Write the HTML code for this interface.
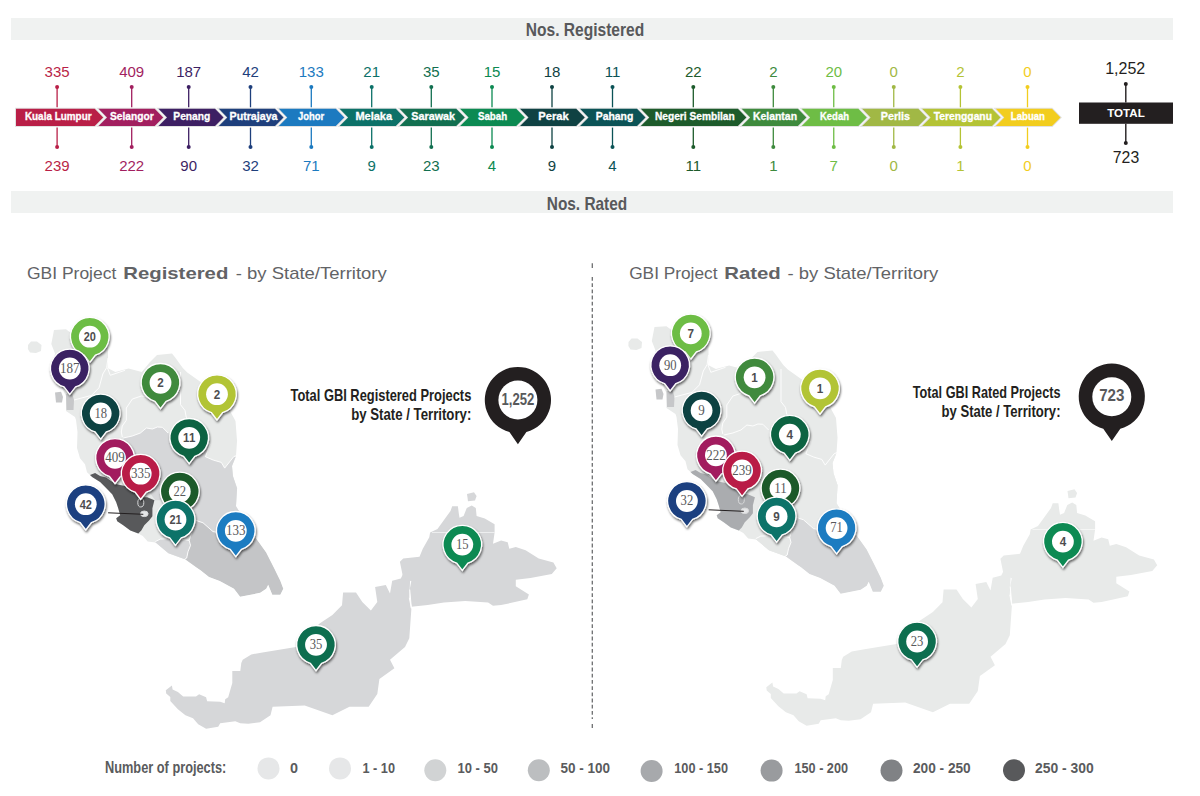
<!DOCTYPE html><html><head><meta charset="utf-8"><style>html,body{margin:0;padding:0;background:#fff;width:1200px;height:796px;overflow:hidden}svg{display:block;font-family:"Liberation Sans",sans-serif}</style></head><body>
<svg width="1200" height="796" viewBox="0 0 1200 796">
<defs><filter id="sh" x="-30%" y="-30%" width="160%" height="160%"><feDropShadow dx="0.8" dy="1.8" stdDeviation="1.1" flood-color="#000" flood-opacity="0.6"/></filter></defs>
<rect x="11" y="18" width="1162" height="22" fill="#f0f2f1"/>
<rect x="11" y="191" width="1162" height="22" fill="#f0f2f1"/>
<text x="585" y="36.3" text-anchor="middle" font-size="17.5" font-weight="bold" fill="#58595b" textLength="118.5" lengthAdjust="spacingAndGlyphs">Nos. Registered</text>
<text x="587" y="209.8" text-anchor="middle" font-size="18.5" font-weight="bold" fill="#58595b" textLength="80.5" lengthAdjust="spacingAndGlyphs">Nos. Rated</text>
<g fill="#e2e2e2" stroke="#e2e2e2" stroke-width="2" stroke-linejoin="miter">
<polygon points="16.0,108.8 94.7,108.8 103.2,117.4 94.7,126.1 16.0,126.1"/>
<polygon points="98.5,108.8 154.7,108.8 163.2,117.4 154.7,126.1 98.5,126.1 107.0,117.4"/>
<polygon points="158.5,108.8 215.0,108.8 223.5,117.4 215.0,126.1 158.5,126.1 167.0,117.4"/>
<polygon points="218.8,108.8 275.0,108.8 283.5,117.4 275.0,126.1 218.8,126.1 227.3,117.4"/>
<polygon points="278.8,108.8 335.8,108.8 344.3,117.4 335.8,126.1 278.8,126.1 287.3,117.4"/>
<polygon points="339.6,108.8 395.8,108.8 404.3,117.4 395.8,126.1 339.6,126.1 348.1,117.4"/>
<polygon points="399.6,108.8 456.2,108.8 464.8,117.4 456.2,126.1 399.6,126.1 408.1,117.4"/>
<polygon points="460.1,108.8 516.2,108.8 524.8,117.4 516.2,126.1 460.1,126.1 468.6,117.4"/>
<polygon points="520.0,108.8 576.2,108.8 584.8,117.4 576.2,126.1 520.0,126.1 528.5,117.4"/>
<polygon points="580.0,108.8 637.0,108.8 645.5,117.4 637.0,126.1 580.0,126.1 588.5,117.4"/>
<polygon points="640.8,108.8 737.9,108.8 746.4,117.4 737.9,126.1 640.8,126.1 649.3,117.4"/>
<polygon points="741.7,108.8 797.9,108.8 806.4,117.4 797.9,126.1 741.7,126.1 750.2,117.4"/>
<polygon points="801.7,108.8 858.3,108.8 866.8,117.4 858.3,126.1 801.7,126.1 810.2,117.4"/>
<polygon points="862.1,108.8 918.3,108.8 926.8,117.4 918.3,126.1 862.1,126.1 870.6,117.4"/>
<polygon points="922.1,108.8 992.0,108.8 1000.5,117.4 992.0,126.1 922.1,126.1 930.6,117.4"/>
<polygon points="995.8,108.8 1052.0,108.8 1060.5,117.4 1052.0,126.1 995.8,126.1 1004.3,117.4"/>
</g>
<polygon points="16.0,108.8 94.7,108.8 103.2,117.4 94.7,126.1 16.0,126.1" fill="#b91f47"/>
<polygon points="98.5,108.8 154.7,108.8 163.2,117.4 154.7,126.1 98.5,126.1 107.0,117.4" fill="#a21f5f"/>
<polygon points="158.5,108.8 215.0,108.8 223.5,117.4 215.0,126.1 158.5,126.1 167.0,117.4" fill="#3d1f63"/>
<polygon points="218.8,108.8 275.0,108.8 283.5,117.4 275.0,126.1 218.8,126.1 227.3,117.4" fill="#1e3f7c"/>
<polygon points="278.8,108.8 335.8,108.8 344.3,117.4 335.8,126.1 278.8,126.1 287.3,117.4" fill="#1c7ac0"/>
<polygon points="339.6,108.8 395.8,108.8 404.3,117.4 395.8,126.1 339.6,126.1 348.1,117.4" fill="#0c7168"/>
<polygon points="399.6,108.8 456.2,108.8 464.8,117.4 456.2,126.1 399.6,126.1 408.1,117.4" fill="#126f50"/>
<polygon points="460.1,108.8 516.2,108.8 524.8,117.4 516.2,126.1 460.1,126.1 468.6,117.4" fill="#0c8a52"/>
<polygon points="520.0,108.8 576.2,108.8 584.8,117.4 576.2,126.1 520.0,126.1 528.5,117.4" fill="#0f4243"/>
<polygon points="580.0,108.8 637.0,108.8 645.5,117.4 637.0,126.1 580.0,126.1 588.5,117.4" fill="#0b5356"/>
<polygon points="640.8,108.8 737.9,108.8 746.4,117.4 737.9,126.1 640.8,126.1 649.3,117.4" fill="#1d5b2b"/>
<polygon points="741.7,108.8 797.9,108.8 806.4,117.4 797.9,126.1 741.7,126.1 750.2,117.4" fill="#3e8a3d"/>
<polygon points="801.7,108.8 858.3,108.8 866.8,117.4 858.3,126.1 801.7,126.1 810.2,117.4" fill="#6ebd45"/>
<polygon points="862.1,108.8 918.3,108.8 926.8,117.4 918.3,126.1 862.1,126.1 870.6,117.4" fill="#a1b845"/>
<polygon points="922.1,108.8 992.0,108.8 1000.5,117.4 992.0,126.1 922.1,126.1 930.6,117.4" fill="#b4c335"/>
<polygon points="995.8,108.8 1052.0,108.8 1060.5,117.4 1052.0,126.1 995.8,126.1 1004.3,117.4" fill="#f2cd1e"/>
<text x="24.9" y="120.2" font-size="10.6" font-weight="bold" fill="#fff" stroke="#fff" stroke-width="0.3" textLength="66.7" lengthAdjust="spacingAndGlyphs">Kuala Lumpur</text>
<line x1="57.1" y1="87" x2="57.1" y2="107.3" stroke="#b91f47" stroke-width="1.3"/>
<line x1="57.1" y1="127.6" x2="57.1" y2="147" stroke="#b91f47" stroke-width="1.3"/>
<circle cx="57.1" cy="87" r="2" fill="#b91f47"/><circle cx="57.1" cy="147" r="2" fill="#b91f47"/>
<text x="57.1" y="76.5" text-anchor="middle" font-size="15" fill="#b91f47">335</text>
<text x="57.1" y="171.2" text-anchor="middle" font-size="15" fill="#b91f47">239</text>
<text x="109.9" y="120.2" font-size="10.6" font-weight="bold" fill="#fff" stroke="#fff" stroke-width="0.3" textLength="43.8" lengthAdjust="spacingAndGlyphs">Selangor</text>
<line x1="131.7" y1="87" x2="131.7" y2="107.3" stroke="#a21f5f" stroke-width="1.3"/>
<line x1="131.7" y1="127.6" x2="131.7" y2="147" stroke="#a21f5f" stroke-width="1.3"/>
<circle cx="131.7" cy="87" r="2" fill="#a21f5f"/><circle cx="131.7" cy="147" r="2" fill="#a21f5f"/>
<text x="131.7" y="76.5" text-anchor="middle" font-size="15" fill="#a21f5f">409</text>
<text x="131.7" y="171.2" text-anchor="middle" font-size="15" fill="#a21f5f">222</text>
<text x="173.3" y="120.2" font-size="10.6" font-weight="bold" fill="#fff" stroke="#fff" stroke-width="0.3" textLength="37" lengthAdjust="spacingAndGlyphs">Penang</text>
<line x1="188.7" y1="87" x2="188.7" y2="107.3" stroke="#3d1f63" stroke-width="1.3"/>
<line x1="188.7" y1="127.6" x2="188.7" y2="147" stroke="#3d1f63" stroke-width="1.3"/>
<circle cx="188.7" cy="87" r="2" fill="#3d1f63"/><circle cx="188.7" cy="147" r="2" fill="#3d1f63"/>
<text x="188.7" y="76.5" text-anchor="middle" font-size="15" fill="#3d1f63">187</text>
<text x="188.7" y="171.2" text-anchor="middle" font-size="15" fill="#3d1f63">90</text>
<text x="229.6" y="120.2" font-size="10.6" font-weight="bold" fill="#fff" stroke="#fff" stroke-width="0.3" textLength="47.9" lengthAdjust="spacingAndGlyphs">Putrajaya</text>
<line x1="250.5" y1="87" x2="250.5" y2="107.3" stroke="#1e3f7c" stroke-width="1.3"/>
<line x1="250.5" y1="127.6" x2="250.5" y2="147" stroke="#1e3f7c" stroke-width="1.3"/>
<circle cx="250.5" cy="87" r="2" fill="#1e3f7c"/><circle cx="250.5" cy="147" r="2" fill="#1e3f7c"/>
<text x="250.5" y="76.5" text-anchor="middle" font-size="15" fill="#1e3f7c">42</text>
<text x="250.5" y="171.2" text-anchor="middle" font-size="15" fill="#1e3f7c">32</text>
<text x="298" y="120.2" font-size="10.6" font-weight="bold" fill="#fff" stroke="#fff" stroke-width="0.3" textLength="26.2" lengthAdjust="spacingAndGlyphs">Johor</text>
<line x1="311.3" y1="87" x2="311.3" y2="107.3" stroke="#1c7ac0" stroke-width="1.3"/>
<line x1="311.3" y1="127.6" x2="311.3" y2="147" stroke="#1c7ac0" stroke-width="1.3"/>
<circle cx="311.3" cy="87" r="2" fill="#1c7ac0"/><circle cx="311.3" cy="147" r="2" fill="#1c7ac0"/>
<text x="311.3" y="76.5" text-anchor="middle" font-size="15" fill="#1c7ac0">133</text>
<text x="311.3" y="171.2" text-anchor="middle" font-size="15" fill="#1c7ac0">71</text>
<text x="355.4" y="120.2" font-size="10.6" font-weight="bold" fill="#fff" stroke="#fff" stroke-width="0.3" textLength="36.7" lengthAdjust="spacingAndGlyphs">Melaka</text>
<line x1="371.7" y1="87" x2="371.7" y2="107.3" stroke="#0c7168" stroke-width="1.3"/>
<line x1="371.7" y1="127.6" x2="371.7" y2="147" stroke="#0c7168" stroke-width="1.3"/>
<circle cx="371.7" cy="87" r="2" fill="#0c7168"/><circle cx="371.7" cy="147" r="2" fill="#0c7168"/>
<text x="371.7" y="76.5" text-anchor="middle" font-size="15" fill="#0c7168">21</text>
<text x="371.7" y="171.2" text-anchor="middle" font-size="15" fill="#0c7168">9</text>
<text x="411.3" y="120.2" font-size="10.6" font-weight="bold" fill="#fff" stroke="#fff" stroke-width="0.3" textLength="43.7" lengthAdjust="spacingAndGlyphs">Sarawak</text>
<line x1="431.3" y1="87" x2="431.3" y2="107.3" stroke="#126f50" stroke-width="1.3"/>
<line x1="431.3" y1="127.6" x2="431.3" y2="147" stroke="#126f50" stroke-width="1.3"/>
<circle cx="431.3" cy="87" r="2" fill="#126f50"/><circle cx="431.3" cy="147" r="2" fill="#126f50"/>
<text x="431.3" y="76.5" text-anchor="middle" font-size="15" fill="#126f50">35</text>
<text x="431.3" y="171.2" text-anchor="middle" font-size="15" fill="#126f50">23</text>
<text x="477.9" y="120.2" font-size="10.6" font-weight="bold" fill="#fff" stroke="#fff" stroke-width="0.3" textLength="29.2" lengthAdjust="spacingAndGlyphs">Sabah</text>
<line x1="492" y1="87" x2="492" y2="107.3" stroke="#0c8a52" stroke-width="1.3"/>
<line x1="492" y1="127.6" x2="492" y2="147" stroke="#0c8a52" stroke-width="1.3"/>
<circle cx="492" cy="87" r="2" fill="#0c8a52"/><circle cx="492" cy="147" r="2" fill="#0c8a52"/>
<text x="492" y="76.5" text-anchor="middle" font-size="15" fill="#0c8a52">15</text>
<text x="492" y="171.2" text-anchor="middle" font-size="15" fill="#0c8a52">4</text>
<text x="538.3" y="120.2" font-size="10.6" font-weight="bold" fill="#fff" stroke="#fff" stroke-width="0.3" textLength="30.4" lengthAdjust="spacingAndGlyphs">Perak</text>
<line x1="552" y1="87" x2="552" y2="107.3" stroke="#0f4243" stroke-width="1.3"/>
<line x1="552" y1="127.6" x2="552" y2="147" stroke="#0f4243" stroke-width="1.3"/>
<circle cx="552" cy="87" r="2" fill="#0f4243"/><circle cx="552" cy="147" r="2" fill="#0f4243"/>
<text x="552" y="76.5" text-anchor="middle" font-size="15" fill="#0f4243">18</text>
<text x="552" y="171.2" text-anchor="middle" font-size="15" fill="#0f4243">9</text>
<text x="595.8" y="120.2" font-size="10.6" font-weight="bold" fill="#fff" stroke="#fff" stroke-width="0.3" textLength="37.5" lengthAdjust="spacingAndGlyphs">Pahang</text>
<line x1="612.5" y1="87" x2="612.5" y2="107.3" stroke="#0b5356" stroke-width="1.3"/>
<line x1="612.5" y1="127.6" x2="612.5" y2="147" stroke="#0b5356" stroke-width="1.3"/>
<circle cx="612.5" cy="87" r="2" fill="#0b5356"/><circle cx="612.5" cy="147" r="2" fill="#0b5356"/>
<text x="612.5" y="76.5" text-anchor="middle" font-size="15" fill="#0b5356">11</text>
<text x="612.5" y="171.2" text-anchor="middle" font-size="15" fill="#0b5356">4</text>
<text x="655" y="120.2" font-size="10.6" font-weight="bold" fill="#fff" stroke="#fff" stroke-width="0.3" textLength="79.7" lengthAdjust="spacingAndGlyphs">Negeri Sembilan</text>
<line x1="693.3" y1="87" x2="693.3" y2="107.3" stroke="#1d5b2b" stroke-width="1.3"/>
<line x1="693.3" y1="127.6" x2="693.3" y2="147" stroke="#1d5b2b" stroke-width="1.3"/>
<circle cx="693.3" cy="87" r="2" fill="#1d5b2b"/><circle cx="693.3" cy="147" r="2" fill="#1d5b2b"/>
<text x="693.3" y="76.5" text-anchor="middle" font-size="15" fill="#1d5b2b">22</text>
<text x="693.3" y="171.2" text-anchor="middle" font-size="15" fill="#1d5b2b">11</text>
<text x="753" y="120.2" font-size="10.6" font-weight="bold" fill="#fff" stroke="#fff" stroke-width="0.3" textLength="44" lengthAdjust="spacingAndGlyphs">Kelantan</text>
<line x1="773.3" y1="87" x2="773.3" y2="107.3" stroke="#3e8a3d" stroke-width="1.3"/>
<line x1="773.3" y1="127.6" x2="773.3" y2="147" stroke="#3e8a3d" stroke-width="1.3"/>
<circle cx="773.3" cy="87" r="2" fill="#3e8a3d"/><circle cx="773.3" cy="147" r="2" fill="#3e8a3d"/>
<text x="773.3" y="76.5" text-anchor="middle" font-size="15" fill="#3e8a3d">2</text>
<text x="773.3" y="171.2" text-anchor="middle" font-size="15" fill="#3e8a3d">1</text>
<text x="820" y="120.2" font-size="10.6" font-weight="bold" fill="#fff" stroke="#fff" stroke-width="0.3" textLength="29" lengthAdjust="spacingAndGlyphs">Kedah</text>
<line x1="833.75" y1="87" x2="833.75" y2="107.3" stroke="#6ebd45" stroke-width="1.3"/>
<line x1="833.75" y1="127.6" x2="833.75" y2="147" stroke="#6ebd45" stroke-width="1.3"/>
<circle cx="833.75" cy="87" r="2" fill="#6ebd45"/><circle cx="833.75" cy="147" r="2" fill="#6ebd45"/>
<text x="833.75" y="76.5" text-anchor="middle" font-size="15" fill="#6ebd45">20</text>
<text x="833.75" y="171.2" text-anchor="middle" font-size="15" fill="#6ebd45">7</text>
<text x="880.8" y="120.2" font-size="10.6" font-weight="bold" fill="#fff" stroke="#fff" stroke-width="0.3" textLength="29.2" lengthAdjust="spacingAndGlyphs">Perlis</text>
<line x1="893.75" y1="87" x2="893.75" y2="107.3" stroke="#a1b845" stroke-width="1.3"/>
<line x1="893.75" y1="127.6" x2="893.75" y2="147" stroke="#a1b845" stroke-width="1.3"/>
<circle cx="893.75" cy="87" r="2" fill="#a1b845"/><circle cx="893.75" cy="147" r="2" fill="#a1b845"/>
<text x="893.75" y="76.5" text-anchor="middle" font-size="15" fill="#a1b845">0</text>
<text x="893.75" y="171.2" text-anchor="middle" font-size="15" fill="#a1b845">0</text>
<text x="933.7" y="120.2" font-size="10.6" font-weight="bold" fill="#fff" stroke="#fff" stroke-width="0.3" textLength="58.3" lengthAdjust="spacingAndGlyphs">Terengganu</text>
<line x1="960.4" y1="87" x2="960.4" y2="107.3" stroke="#b4c335" stroke-width="1.3"/>
<line x1="960.4" y1="127.6" x2="960.4" y2="147" stroke="#b4c335" stroke-width="1.3"/>
<circle cx="960.4" cy="87" r="2" fill="#b4c335"/><circle cx="960.4" cy="147" r="2" fill="#b4c335"/>
<text x="960.4" y="76.5" text-anchor="middle" font-size="15" fill="#b4c335">2</text>
<text x="960.4" y="171.2" text-anchor="middle" font-size="15" fill="#b4c335">1</text>
<text x="1010.8" y="120.2" font-size="10.6" font-weight="bold" fill="#fff" stroke="#fff" stroke-width="0.3" textLength="34.2" lengthAdjust="spacingAndGlyphs">Labuan</text>
<line x1="1027.5" y1="87" x2="1027.5" y2="107.3" stroke="#f2cd1e" stroke-width="1.3"/>
<line x1="1027.5" y1="127.6" x2="1027.5" y2="147" stroke="#f2cd1e" stroke-width="1.3"/>
<circle cx="1027.5" cy="87" r="2" fill="#f2cd1e"/><circle cx="1027.5" cy="147" r="2" fill="#f2cd1e"/>
<text x="1027.5" y="76.5" text-anchor="middle" font-size="15" fill="#f2cd1e">0</text>
<text x="1027.5" y="171.2" text-anchor="middle" font-size="15" fill="#f2cd1e">0</text>
<rect x="1079" y="102.5" width="94" height="21.3" fill="#231f20"/>
<text x="1126" y="117.2" text-anchor="middle" font-size="11" font-weight="bold" fill="#fff" textLength="37.5" lengthAdjust="spacingAndGlyphs">TOTAL</text>
<line x1="1125.8" y1="84" x2="1125.8" y2="102.5" stroke="#231f20" stroke-width="1.4"/><circle cx="1125.8" cy="84" r="2" fill="#231f20"/>
<line x1="1125.8" y1="123.8" x2="1125.8" y2="143" stroke="#231f20" stroke-width="1.4"/><circle cx="1125.8" cy="143" r="2" fill="#231f20"/>
<text x="1125.2" y="74" text-anchor="middle" font-size="16" fill="#231f20">1,252</text>
<text x="1126" y="163.2" text-anchor="middle" font-size="15.8" fill="#231f20">723</text>
<defs><clipPath id="penclip"><polygon points="54.0,330.0 66.0,329.3 71.0,333.0 80.0,333.0 95.0,336.0 104.0,340.0 108.0,346.0 108.0,358.0 107.5,368.0 115.4,372.0 128.6,368.4 141.8,372.0 150.0,362.0 157.0,355.0 172.0,353.4 175.2,357.5 182.8,368.0 187.3,372.6 202.4,383.2 215.0,392.0 228.0,407.3 235.5,420.9 237.0,440.5 237.1,440.0 236.0,456.0 232.0,466.0 233.0,476.2 237.1,488.2 236.0,506.3 245.3,521.2 256.2,538.5 266.2,552.6 274.3,568.6 280.3,580.7 283.3,588.7 280.3,594.8 272.3,594.8 268.2,584.7 266.2,588.7 260.2,592.8 240.1,596.8 234.0,588.7 219.7,581.0 209.0,576.9 200.5,570.3 185.5,559.6 168.4,553.2 155.6,542.5 147.7,541.6 142.8,536.0 138.3,533.4 130.3,530.4 123.2,525.3 117.2,521.3 116.2,518.3 120.2,515.3 118.2,508.2 116.2,502.2 112.2,494.2 105.1,487.1 100.1,482.1 92.1,477.1 90.0,475.1 87.0,472.3 85.0,464.2 80.0,458.2 77.0,448.0 77.5,432.0 76.0,420.0 75.0,417.0 66.0,411.0 66.0,396.0 62.0,388.0 57.0,372.0 53.2,362.0 55.0,353.4 51.3,344.0"/></clipPath></defs>
<g>
<polygon points="54.0,330.0 66.0,329.3 71.0,333.0 80.0,333.0 95.0,336.0 104.0,340.0 108.0,346.0 108.0,358.0 107.5,368.0 115.4,372.0 128.6,368.4 141.8,372.0 150.0,362.0 157.0,355.0 172.0,353.4 175.2,357.5 182.8,368.0 187.3,372.6 202.4,383.2 215.0,392.0 228.0,407.3 235.5,420.9 237.0,440.5 237.1,440.0 236.0,456.0 232.0,466.0 233.0,476.2 237.1,488.2 236.0,506.3 245.3,521.2 256.2,538.5 266.2,552.6 274.3,568.6 280.3,580.7 283.3,588.7 280.3,594.8 272.3,594.8 268.2,584.7 266.2,588.7 260.2,592.8 240.1,596.8 234.0,588.7 219.7,581.0 209.0,576.9 200.5,570.3 185.5,559.6 168.4,553.2 155.6,542.5 147.7,541.6 142.8,536.0 138.3,533.4 130.3,530.4 123.2,525.3 117.2,521.3 116.2,518.3 120.2,515.3 118.2,508.2 116.2,502.2 112.2,494.2 105.1,487.1 100.1,482.1 92.1,477.1 90.0,475.1 87.0,472.3 85.0,464.2 80.0,458.2 77.0,448.0 77.5,432.0 76.0,420.0 75.0,417.0 66.0,411.0 66.0,396.0 62.0,388.0 57.0,372.0 53.2,362.0 55.0,353.4 51.3,344.0" fill="#e8eae9"/>
<polygon points="28.0,345.0 31.0,341.5 37.0,341.5 41.5,345.0 41.0,351.0 36.0,353.0 30.0,352.5 27.9,349.0" fill="#e8eae9"/>
<g clip-path="url(#penclip)">
<polygon points="123.3,438.0 132.3,436.0 140.4,433.0 146.4,428.0 152.4,429.0 157.4,427.0 162.4,427.3 168.1,433.0 175.0,437.0 183.0,440.5 195.0,445.0 210.0,444.3 205.4,456.7 213.3,460.1 221.3,462.4 224.7,468.1 233.7,456.7 250.0,456.0 250.0,521.2 245.3,521.2 220.0,532.8 213.0,531.6 203.0,522.8 196.7,520.3 180.0,505.0 170.0,500.0 155.3,500.2 150.0,493.0 140.0,485.0 132.0,470.0 126.0,455.0" fill="#d6d7d9"/>
<polygon points="182.9,560.5 186.7,558.0 188.0,551.7 190.5,545.4 189.2,540.4 195.5,520.3 203.0,522.8 213.0,531.6 220.0,532.8 245.3,521.2 256.2,538.5 266.2,552.6 274.3,568.6 280.3,580.7 283.3,588.7 280.3,594.8 272.3,594.8 268.2,584.7 266.2,588.7 260.2,592.8 240.1,596.8 234.0,588.7 219.7,581.0 209.0,576.9 200.5,570.3" fill="#c4c5c7"/>
<polygon points="155.3,541.6 160.3,539.1 175.0,538.5 189.2,540.4 190.5,545.4 188.0,551.7 186.7,558.0 182.9,560.5 170.4,555.4 159.0,549.1 155.3,544.1" fill="#d6d7d9"/>
</g>
<polygon points="90.0,475.1 95.1,473.1 100.1,476.1 106.1,477.6 115.2,484.1 125.0,486.0 135.0,492.0 142.3,497.2 147.3,497.2 154.4,500.2 152.4,508.2 152.4,516.3 149.3,520.3 144.3,525.3 141.3,530.4 138.3,533.4 130.3,530.4 123.2,525.3 117.2,521.3 116.2,518.3 120.2,515.3 118.2,508.2 116.2,502.2 112.2,494.2 105.1,487.1 100.1,482.1 92.1,477.1" fill="#58595b"/>
<polygon points="55.0,392.5 61.0,391.8 63.0,397.0 62.0,402.5 56.0,402.5" fill="#c6c7c9"/>
<polygon points="66.0,394.0 72.0,393.0 74.0,400.0 73.5,410.0 66.5,410.0" fill="#c6c7c9"/>
<polyline points="108.0,358.0 106.6,367.7 102.8,374.0 99.0,387.8 91.5,395.4 74.0,400.0" fill="none" stroke="#fff" stroke-width="1" opacity="0.9"/>
<polyline points="107.5,368.0 110.3,375.3 125.0,370.3" fill="none" stroke="#fff" stroke-width="1" opacity="0.9"/>
<polyline points="122.3,437.0 121.3,432.0 122.3,426.0 126.3,420.2 126.3,408.0 132.4,399.0 141.4,396.0 150.0,397.0 160.0,398.0" fill="none" stroke="#fff" stroke-width="1" opacity="0.9"/>
<polyline points="180.5,372.0 180.5,404.7 185.0,410.4 186.2,417.1 195.0,428.0 205.0,440.0 210.0,444.3 205.4,456.7 213.3,460.1 221.3,462.4 224.7,468.1 233.7,456.7 238.0,455.0" fill="none" stroke="#fff" stroke-width="1" opacity="0.9"/>
<polyline points="123.3,438.0 132.3,436.0 140.4,433.0 146.4,428.0 152.4,429.0 157.4,427.0 162.4,427.3 168.1,433.0" fill="none" stroke="#fff" stroke-width="1" opacity="0.9"/>
<polyline points="182.9,560.5 186.7,558.0 188.0,551.7 190.5,545.4 189.2,540.4 195.5,520.3 203.0,522.8 213.0,531.6 220.0,532.8 245.3,521.2" fill="none" stroke="#fff" stroke-width="1" opacity="0.9"/>
<polyline points="155.3,541.6 160.3,539.1 175.0,538.5 189.2,540.4" fill="none" stroke="#fff" stroke-width="1" opacity="0.9"/>
<ellipse cx="140.8" cy="502.7" rx="3" ry="4.3" fill="none" stroke="#d9dadb" stroke-width="1"/>
<ellipse cx="144.3" cy="513.8" rx="3.8" ry="2.8" fill="#e6e7e8" stroke="#d9dadb" stroke-width="1"/>
<polygon points="171.9,685.4 165.8,690.3 166.2,693.4 170.3,697.1 170.3,700.9 177.9,709.2 185.4,715.2 193.0,718.2 198.2,724.3 206.1,728.8 218.2,726.8 220.2,723.3 235.3,721.3 240.3,723.3 248.3,723.8 260.0,722.3 270.5,715.2 272.6,706.7 304.7,705.6 332.4,715.2 349.5,706.7 368.7,706.7 377.3,694.0 379.4,679.0 394.4,668.2 390.0,659.7 405.0,647.0 409.3,638.3 411.4,608.4 409.3,597.8 410.4,574.3 405.0,570.0 400.8,578.5 392.2,580.7 390.0,593.5 385.8,585.0 375.1,587.0 377.3,602.0 370.9,610.6 362.3,602.0 356.0,592.4 343.1,592.4 342.0,605.2 332.4,614.9 319.6,623.4 296.0,647.0 264.0,652.2 251.3,654.4 242.7,659.7 241.3,663.0 240.3,671.0 232.3,671.0 232.3,683.1 228.2,697.2 225.2,699.2 224.7,703.2 220.2,701.7 207.1,701.2 206.1,697.2 199.1,694.2 196.0,696.4 183.2,696.4 177.9,691.9 172.6,689.6" fill="#d6d7d9"/>
<polygon points="399.9,561.7 403.2,558.5 419.5,556.8 422.8,548.7 429.3,537.3 430.1,532.4 437.5,529.1 445.6,517.7 450.5,511.1 452.2,506.2 457.9,506.2 458.7,512.8 459.5,517.7 463.6,516.0 466.8,507.9 471.7,505.4 475.8,507.9 476.6,516.0 484.8,518.5 494.6,524.2 494.6,532.4 493.0,543.8 501.1,540.5 507.7,542.2 509.3,548.7 515.8,547.1 525.6,550.3 538.7,558.5 553.4,562.6 556.7,568.3 551.8,574.0 530.5,578.1 515.8,579.7 515.8,586.2 528.9,594.4 527.3,599.3 512.6,602.6 501.1,605.0 493.0,605.8 488.1,602.6 465.2,600.9 444.0,602.6 427.7,605.0 411.3,606.7 409.7,589.5 411.3,581.3 403.2,578.1" fill="#d6d7d9"/>
<polygon points="467.0,494.0 474.0,492.3 476.6,496.0 475.0,500.5 468.0,501.3" fill="#d6d7d9"/>
<polyline points="409.3,597.8 411.4,608.4 409.7,589.5" fill="none" stroke="#fff" stroke-width="1"/>
<line x1="432" y1="532.4" x2="494.6" y2="532.4" stroke="#fff" stroke-width="0.8" opacity="0.8"/>
</g>
<g transform="translate(600.5,-3)">
<polygon points="54.0,330.0 66.0,329.3 71.0,333.0 80.0,333.0 95.0,336.0 104.0,340.0 108.0,346.0 108.0,358.0 107.5,368.0 115.4,372.0 128.6,368.4 141.8,372.0 150.0,362.0 157.0,355.0 172.0,353.4 175.2,357.5 182.8,368.0 187.3,372.6 202.4,383.2 215.0,392.0 228.0,407.3 235.5,420.9 237.0,440.5 237.1,440.0 236.0,456.0 232.0,466.0 233.0,476.2 237.1,488.2 236.0,506.3 245.3,521.2 256.2,538.5 266.2,552.6 274.3,568.6 280.3,580.7 283.3,588.7 280.3,594.8 272.3,594.8 268.2,584.7 266.2,588.7 260.2,592.8 240.1,596.8 234.0,588.7 219.7,581.0 209.0,576.9 200.5,570.3 185.5,559.6 168.4,553.2 155.6,542.5 147.7,541.6 142.8,536.0 138.3,533.4 130.3,530.4 123.2,525.3 117.2,521.3 116.2,518.3 120.2,515.3 118.2,508.2 116.2,502.2 112.2,494.2 105.1,487.1 100.1,482.1 92.1,477.1 90.0,475.1 87.0,472.3 85.0,464.2 80.0,458.2 77.0,448.0 77.5,432.0 76.0,420.0 75.0,417.0 66.0,411.0 66.0,396.0 62.0,388.0 57.0,372.0 53.2,362.0 55.0,353.4 51.3,344.0" fill="#e8eae9"/>
<polygon points="28.0,345.0 31.0,341.5 37.0,341.5 41.5,345.0 41.0,351.0 36.0,353.0 30.0,352.5 27.9,349.0" fill="#e8eae9"/>
<g clip-path="url(#penclip)">
<polygon points="123.3,438.0 132.3,436.0 140.4,433.0 146.4,428.0 152.4,429.0 157.4,427.0 162.4,427.3 168.1,433.0 175.0,437.0 183.0,440.5 195.0,445.0 210.0,444.3 205.4,456.7 213.3,460.1 221.3,462.4 224.7,468.1 233.7,456.7 250.0,456.0 250.0,521.2 245.3,521.2 220.0,532.8 213.0,531.6 203.0,522.8 196.7,520.3 180.0,505.0 170.0,500.0 155.3,500.2 150.0,493.0 140.0,485.0 132.0,470.0 126.0,455.0" fill="#e8eae9"/>
<polygon points="182.9,560.5 186.7,558.0 188.0,551.7 190.5,545.4 189.2,540.4 195.5,520.3 203.0,522.8 213.0,531.6 220.0,532.8 245.3,521.2 256.2,538.5 266.2,552.6 274.3,568.6 280.3,580.7 283.3,588.7 280.3,594.8 272.3,594.8 268.2,584.7 266.2,588.7 260.2,592.8 240.1,596.8 234.0,588.7 219.7,581.0 209.0,576.9 200.5,570.3" fill="#d6d7d9"/>
<polygon points="155.3,541.6 160.3,539.1 175.0,538.5 189.2,540.4 190.5,545.4 188.0,551.7 186.7,558.0 182.9,560.5 170.4,555.4 159.0,549.1 155.3,544.1" fill="#e5e7e6"/>
</g>
<polygon points="90.0,475.1 95.1,473.1 100.1,476.1 106.1,477.6 115.2,484.1 125.0,486.0 135.0,492.0 142.3,497.2 147.3,497.2 154.4,500.2 152.4,508.2 152.4,516.3 149.3,520.3 144.3,525.3 141.3,530.4 138.3,533.4 130.3,530.4 123.2,525.3 117.2,521.3 116.2,518.3 120.2,515.3 118.2,508.2 116.2,502.2 112.2,494.2 105.1,487.1 100.1,482.1 92.1,477.1" fill="#aaacaf"/>
<polygon points="55.0,392.5 61.0,391.8 63.0,397.0 62.0,402.5 56.0,402.5" fill="#c6c7c9"/>
<polygon points="66.0,394.0 72.0,393.0 74.0,400.0 73.5,410.0 66.5,410.0" fill="#c6c7c9"/>
<polyline points="108.0,358.0 106.6,367.7 102.8,374.0 99.0,387.8 91.5,395.4 74.0,400.0" fill="none" stroke="#fff" stroke-width="1" opacity="0.9"/>
<polyline points="107.5,368.0 110.3,375.3 125.0,370.3" fill="none" stroke="#fff" stroke-width="1" opacity="0.9"/>
<polyline points="122.3,437.0 121.3,432.0 122.3,426.0 126.3,420.2 126.3,408.0 132.4,399.0 141.4,396.0 150.0,397.0 160.0,398.0" fill="none" stroke="#fff" stroke-width="1" opacity="0.9"/>
<polyline points="180.5,372.0 180.5,404.7 185.0,410.4 186.2,417.1 195.0,428.0 205.0,440.0 210.0,444.3 205.4,456.7 213.3,460.1 221.3,462.4 224.7,468.1 233.7,456.7 238.0,455.0" fill="none" stroke="#fff" stroke-width="1" opacity="0.9"/>
<polyline points="123.3,438.0 132.3,436.0 140.4,433.0 146.4,428.0 152.4,429.0 157.4,427.0 162.4,427.3 168.1,433.0" fill="none" stroke="#fff" stroke-width="1" opacity="0.9"/>
<polyline points="182.9,560.5 186.7,558.0 188.0,551.7 190.5,545.4 189.2,540.4 195.5,520.3 203.0,522.8 213.0,531.6 220.0,532.8 245.3,521.2" fill="none" stroke="#fff" stroke-width="1" opacity="0.9"/>
<polyline points="155.3,541.6 160.3,539.1 175.0,538.5 189.2,540.4" fill="none" stroke="#fff" stroke-width="1" opacity="0.9"/>
<ellipse cx="140.8" cy="502.7" rx="3" ry="4.3" fill="none" stroke="#d9dadb" stroke-width="1"/>
<ellipse cx="144.3" cy="513.8" rx="3.8" ry="2.8" fill="#e6e7e8" stroke="#d9dadb" stroke-width="1"/>
<polygon points="171.9,685.4 165.8,690.3 166.2,693.4 170.3,697.1 170.3,700.9 177.9,709.2 185.4,715.2 193.0,718.2 198.2,724.3 206.1,728.8 218.2,726.8 220.2,723.3 235.3,721.3 240.3,723.3 248.3,723.8 260.0,722.3 270.5,715.2 272.6,706.7 304.7,705.6 332.4,715.2 349.5,706.7 368.7,706.7 377.3,694.0 379.4,679.0 394.4,668.2 390.0,659.7 405.0,647.0 409.3,638.3 411.4,608.4 409.3,597.8 410.4,574.3 405.0,570.0 400.8,578.5 392.2,580.7 390.0,593.5 385.8,585.0 375.1,587.0 377.3,602.0 370.9,610.6 362.3,602.0 356.0,592.4 343.1,592.4 342.0,605.2 332.4,614.9 319.6,623.4 296.0,647.0 264.0,652.2 251.3,654.4 242.7,659.7 241.3,663.0 240.3,671.0 232.3,671.0 232.3,683.1 228.2,697.2 225.2,699.2 224.7,703.2 220.2,701.7 207.1,701.2 206.1,697.2 199.1,694.2 196.0,696.4 183.2,696.4 177.9,691.9 172.6,689.6" fill="#e8eae9"/>
<polygon points="399.9,561.7 403.2,558.5 419.5,556.8 422.8,548.7 429.3,537.3 430.1,532.4 437.5,529.1 445.6,517.7 450.5,511.1 452.2,506.2 457.9,506.2 458.7,512.8 459.5,517.7 463.6,516.0 466.8,507.9 471.7,505.4 475.8,507.9 476.6,516.0 484.8,518.5 494.6,524.2 494.6,532.4 493.0,543.8 501.1,540.5 507.7,542.2 509.3,548.7 515.8,547.1 525.6,550.3 538.7,558.5 553.4,562.6 556.7,568.3 551.8,574.0 530.5,578.1 515.8,579.7 515.8,586.2 528.9,594.4 527.3,599.3 512.6,602.6 501.1,605.0 493.0,605.8 488.1,602.6 465.2,600.9 444.0,602.6 427.7,605.0 411.3,606.7 409.7,589.5 411.3,581.3 403.2,578.1" fill="#e8eae9"/>
<polygon points="467.0,494.0 474.0,492.3 476.6,496.0 475.0,500.5 468.0,501.3" fill="#e8eae9"/>
<polyline points="409.3,597.8 411.4,608.4 409.7,589.5" fill="none" stroke="#fff" stroke-width="1"/>
<line x1="432" y1="532.4" x2="494.6" y2="532.4" stroke="#fff" stroke-width="0.8" opacity="0.8"/>
</g>
<line x1="108.1" y1="512.8" x2="143.3" y2="514.3" stroke="#231f20" stroke-width="1"/>
<line x1="708.6" y1="509.8" x2="743.8" y2="511.3" stroke="#231f20" stroke-width="1"/>
<g transform="translate(89.8,336.7)"><path d="M0,25.8 L-5.6,18.47 A19.3,19.3 0 1 1 5.6,18.47 Z" fill="#6dbd45" stroke="#fff" stroke-width="1.3" filter="url(#sh)"/><circle r="10.9" fill="#fff"/><text x="0" y="4.5" text-anchor="middle" font-size="12.6" font-weight="bold" fill="#4d4d4f" textLength="12.2" lengthAdjust="spacingAndGlyphs">20</text></g>
<g transform="translate(69.8,368.5)"><path d="M0,25.8 L-5.6,18.47 A19.3,19.3 0 1 1 5.6,18.47 Z" fill="#3b2064" stroke="#fff" stroke-width="1.3" filter="url(#sh)"/><circle r="10.9" fill="#fff"/><text x="0" y="4.3" text-anchor="middle" font-size="14.5" fill="#58595b" font-family="Liberation Serif" textLength="19.5" lengthAdjust="spacingAndGlyphs">187</text></g>
<g transform="translate(160.5,382.8)"><path d="M0,25.8 L-5.6,18.47 A19.3,19.3 0 1 1 5.6,18.47 Z" fill="#3f8a3c" stroke="#fff" stroke-width="1.3" filter="url(#sh)"/><circle r="10.9" fill="#fff"/><text x="0" y="4.5" text-anchor="middle" font-size="12.6" font-weight="bold" fill="#4d4d4f" textLength="6.5" lengthAdjust="spacingAndGlyphs">2</text></g>
<g transform="translate(217.0,394.2)"><path d="M0,25.8 L-5.6,18.47 A19.3,19.3 0 1 1 5.6,18.47 Z" fill="#b2c434" stroke="#fff" stroke-width="1.3" filter="url(#sh)"/><circle r="10.9" fill="#fff"/><text x="0" y="4.5" text-anchor="middle" font-size="12.6" font-weight="bold" fill="#4d4d4f" textLength="6.5" lengthAdjust="spacingAndGlyphs">2</text></g>
<g transform="translate(100.7,413.4)"><path d="M0,25.8 L-5.6,18.47 A19.3,19.3 0 1 1 5.6,18.47 Z" fill="#0f4242" stroke="#fff" stroke-width="1.3" filter="url(#sh)"/><circle r="10.9" fill="#fff"/><text x="0" y="4.3" text-anchor="middle" font-size="14.5" fill="#58595b" font-family="Liberation Serif" textLength="12.6" lengthAdjust="spacingAndGlyphs">18</text></g>
<g transform="translate(189.2,437.8)"><path d="M0,25.8 L-5.6,18.47 A19.3,19.3 0 1 1 5.6,18.47 Z" fill="#0e6443" stroke="#fff" stroke-width="1.3" filter="url(#sh)"/><circle r="10.9" fill="#fff"/><text x="0" y="4.5" text-anchor="middle" font-size="12.6" font-weight="bold" fill="#4d4d4f" textLength="12.2" lengthAdjust="spacingAndGlyphs">11</text></g>
<g transform="translate(115.0,457.9)"><path d="M0,25.8 L-5.6,18.47 A19.3,19.3 0 1 1 5.6,18.47 Z" fill="#a21f5f" stroke="#fff" stroke-width="1.3" filter="url(#sh)"/><circle r="10.9" fill="#fff"/><text x="0" y="4.3" text-anchor="middle" font-size="14.5" fill="#58595b" font-family="Liberation Serif" textLength="19.5" lengthAdjust="spacingAndGlyphs">409</text></g>
<g transform="translate(140.7,473.7)"><path d="M0,25.8 L-5.6,18.47 A19.3,19.3 0 1 1 5.6,18.47 Z" fill="#b91f47" stroke="#fff" stroke-width="1.3" filter="url(#sh)"/><circle r="10.9" fill="#fff"/><text x="0" y="4.3" text-anchor="middle" font-size="14.5" fill="#58595b" font-family="Liberation Serif" textLength="19.5" lengthAdjust="spacingAndGlyphs">335</text></g>
<g transform="translate(85.8,504.2)"><path d="M0,25.8 L-5.6,18.47 A19.3,19.3 0 1 1 5.6,18.47 Z" fill="#1b4180" stroke="#fff" stroke-width="1.3" filter="url(#sh)"/><circle r="10.9" fill="#fff"/><text x="0" y="4.5" text-anchor="middle" font-size="12.6" font-weight="bold" fill="#4d4d4f" textLength="12.2" lengthAdjust="spacingAndGlyphs">42</text></g>
<g transform="translate(179.8,491.5)"><path d="M0,25.8 L-5.6,18.47 A19.3,19.3 0 1 1 5.6,18.47 Z" fill="#1d5a2a" stroke="#fff" stroke-width="1.3" filter="url(#sh)"/><circle r="10.9" fill="#fff"/><text x="0" y="4.3" text-anchor="middle" font-size="14.5" fill="#58595b" font-family="Liberation Serif" textLength="12.6" lengthAdjust="spacingAndGlyphs">22</text></g>
<g transform="translate(175.5,519.5)"><path d="M0,25.8 L-5.6,18.47 A19.3,19.3 0 1 1 5.6,18.47 Z" fill="#0b7369" stroke="#fff" stroke-width="1.3" filter="url(#sh)"/><circle r="10.9" fill="#fff"/><text x="0" y="4.5" text-anchor="middle" font-size="12.6" font-weight="bold" fill="#4d4d4f" textLength="12.2" lengthAdjust="spacingAndGlyphs">21</text></g>
<g transform="translate(235.8,530.8)"><path d="M0,25.8 L-5.6,18.47 A19.3,19.3 0 1 1 5.6,18.47 Z" fill="#1c7bc1" stroke="#fff" stroke-width="1.3" filter="url(#sh)"/><circle r="10.9" fill="#fff"/><text x="0" y="4.3" text-anchor="middle" font-size="14.5" fill="#58595b" font-family="Liberation Serif" textLength="19.5" lengthAdjust="spacingAndGlyphs">133</text></g>
<g transform="translate(316.0,644.8)"><path d="M0,25.8 L-5.6,18.47 A19.3,19.3 0 1 1 5.6,18.47 Z" fill="#106e4f" stroke="#fff" stroke-width="1.3" filter="url(#sh)"/><circle r="10.9" fill="#fff"/><text x="0" y="4.3" text-anchor="middle" font-size="14.5" fill="#58595b" font-family="Liberation Serif" textLength="12.6" lengthAdjust="spacingAndGlyphs">35</text></g>
<g transform="translate(462.3,544.6)"><path d="M0,25.8 L-5.6,18.47 A19.3,19.3 0 1 1 5.6,18.47 Z" fill="#0c8a53" stroke="#fff" stroke-width="1.3" filter="url(#sh)"/><circle r="10.9" fill="#fff"/><text x="0" y="4.3" text-anchor="middle" font-size="14.5" fill="#58595b" font-family="Liberation Serif" textLength="12.6" lengthAdjust="spacingAndGlyphs">15</text></g>
<g transform="translate(690.8,333.4)"><path d="M0,25.8 L-5.6,18.47 A19.3,19.3 0 1 1 5.6,18.47 Z" fill="#6dbd45" stroke="#fff" stroke-width="1.3" filter="url(#sh)"/><circle r="10.9" fill="#fff"/><text x="0" y="4.5" text-anchor="middle" font-size="12.6" font-weight="bold" fill="#4d4d4f" textLength="6.5" lengthAdjust="spacingAndGlyphs">7</text></g>
<g transform="translate(670.2,365.2)"><path d="M0,25.8 L-5.6,18.47 A19.3,19.3 0 1 1 5.6,18.47 Z" fill="#3b2064" stroke="#fff" stroke-width="1.3" filter="url(#sh)"/><circle r="10.9" fill="#fff"/><text x="0" y="4.3" text-anchor="middle" font-size="14.5" fill="#58595b" font-family="Liberation Serif" textLength="12.6" lengthAdjust="spacingAndGlyphs">90</text></g>
<g transform="translate(754.6,377.3)"><path d="M0,25.8 L-5.6,18.47 A19.3,19.3 0 1 1 5.6,18.47 Z" fill="#3f8a3c" stroke="#fff" stroke-width="1.3" filter="url(#sh)"/><circle r="10.9" fill="#fff"/><text x="0" y="4.5" text-anchor="middle" font-size="12.6" font-weight="bold" fill="#4d4d4f" textLength="6.5" lengthAdjust="spacingAndGlyphs">1</text></g>
<g transform="translate(820.0,388.3)"><path d="M0,25.8 L-5.6,18.47 A19.3,19.3 0 1 1 5.6,18.47 Z" fill="#b2c434" stroke="#fff" stroke-width="1.3" filter="url(#sh)"/><circle r="10.9" fill="#fff"/><text x="0" y="4.5" text-anchor="middle" font-size="12.6" font-weight="bold" fill="#4d4d4f" textLength="6.5" lengthAdjust="spacingAndGlyphs">1</text></g>
<g transform="translate(701.6,410.4)"><path d="M0,25.8 L-5.6,18.47 A19.3,19.3 0 1 1 5.6,18.47 Z" fill="#0f4242" stroke="#fff" stroke-width="1.3" filter="url(#sh)"/><circle r="10.9" fill="#fff"/><text x="0" y="4.3" text-anchor="middle" font-size="14.5" fill="#58595b" font-family="Liberation Serif" textLength="6.5" lengthAdjust="spacingAndGlyphs">9</text></g>
<g transform="translate(789.8,434.6)"><path d="M0,25.8 L-5.6,18.47 A19.3,19.3 0 1 1 5.6,18.47 Z" fill="#0e6443" stroke="#fff" stroke-width="1.3" filter="url(#sh)"/><circle r="10.9" fill="#fff"/><text x="0" y="4.5" text-anchor="middle" font-size="12.6" font-weight="bold" fill="#4d4d4f" textLength="6.5" lengthAdjust="spacingAndGlyphs">4</text></g>
<g transform="translate(715.9,455.3)"><path d="M0,25.8 L-5.6,18.47 A19.3,19.3 0 1 1 5.6,18.47 Z" fill="#a21f5f" stroke="#fff" stroke-width="1.3" filter="url(#sh)"/><circle r="10.9" fill="#fff"/><text x="0" y="4.3" text-anchor="middle" font-size="14.5" fill="#58595b" font-family="Liberation Serif" textLength="19.5" lengthAdjust="spacingAndGlyphs">222</text></g>
<g transform="translate(742.1,470.5)"><path d="M0,25.8 L-5.6,18.47 A19.3,19.3 0 1 1 5.6,18.47 Z" fill="#b91f47" stroke="#fff" stroke-width="1.3" filter="url(#sh)"/><circle r="10.9" fill="#fff"/><text x="0" y="4.3" text-anchor="middle" font-size="14.5" fill="#58595b" font-family="Liberation Serif" textLength="19.5" lengthAdjust="spacingAndGlyphs">239</text></g>
<g transform="translate(686.9,501.0)"><path d="M0,25.8 L-5.6,18.47 A19.3,19.3 0 1 1 5.6,18.47 Z" fill="#1b4180" stroke="#fff" stroke-width="1.3" filter="url(#sh)"/><circle r="10.9" fill="#fff"/><text x="0" y="4.3" text-anchor="middle" font-size="14.5" fill="#58595b" font-family="Liberation Serif" textLength="12.6" lengthAdjust="spacingAndGlyphs">32</text></g>
<g transform="translate(780.5,488.4)"><path d="M0,25.8 L-5.6,18.47 A19.3,19.3 0 1 1 5.6,18.47 Z" fill="#1d5a2a" stroke="#fff" stroke-width="1.3" filter="url(#sh)"/><circle r="10.9" fill="#fff"/><text x="0" y="4.3" text-anchor="middle" font-size="14.5" fill="#58595b" font-family="Liberation Serif" textLength="12.6" lengthAdjust="spacingAndGlyphs">11</text></g>
<g transform="translate(776.6,516.4)"><path d="M0,25.8 L-5.6,18.47 A19.3,19.3 0 1 1 5.6,18.47 Z" fill="#0b7369" stroke="#fff" stroke-width="1.3" filter="url(#sh)"/><circle r="10.9" fill="#fff"/><text x="0" y="4.5" text-anchor="middle" font-size="12.6" font-weight="bold" fill="#4d4d4f" textLength="6.5" lengthAdjust="spacingAndGlyphs">9</text></g>
<g transform="translate(836.6,528.1)"><path d="M0,25.8 L-5.6,18.47 A19.3,19.3 0 1 1 5.6,18.47 Z" fill="#1c7bc1" stroke="#fff" stroke-width="1.3" filter="url(#sh)"/><circle r="10.9" fill="#fff"/><text x="0" y="4.3" text-anchor="middle" font-size="14.5" fill="#58595b" font-family="Liberation Serif" textLength="12.6" lengthAdjust="spacingAndGlyphs">71</text></g>
<g transform="translate(917.1,641.5)"><path d="M0,25.8 L-5.6,18.47 A19.3,19.3 0 1 1 5.6,18.47 Z" fill="#106e4f" stroke="#fff" stroke-width="1.3" filter="url(#sh)"/><circle r="10.9" fill="#fff"/><text x="0" y="4.3" text-anchor="middle" font-size="14.5" fill="#58595b" font-family="Liberation Serif" textLength="12.6" lengthAdjust="spacingAndGlyphs">23</text></g>
<g transform="translate(1062.9,541.6)"><path d="M0,25.8 L-5.6,18.47 A19.3,19.3 0 1 1 5.6,18.47 Z" fill="#0c8a53" stroke="#fff" stroke-width="1.3" filter="url(#sh)"/><circle r="10.9" fill="#fff"/><text x="0" y="4.5" text-anchor="middle" font-size="12.6" font-weight="bold" fill="#4d4d4f" textLength="6.5" lengthAdjust="spacingAndGlyphs">4</text></g>
<g transform="translate(517.9,400)"><path d="M0,44.2 L-8.5,32 A33.1,33.1 0 1 1 8.5,32 Z" fill="#231f20"/><circle r="19.5" fill="#fff"/><text x="0" y="4.7" text-anchor="middle" font-size="16.2" font-weight="bold" fill="#58595b" textLength="32.8" lengthAdjust="spacingAndGlyphs">1,252</text></g>
<g transform="translate(1111.8,396.7)"><path d="M0,44.2 L-8.5,32 A33.1,33.1 0 1 1 8.5,32 Z" fill="#231f20"/><circle r="19.5" fill="#fff"/><text x="0" y="4.7" text-anchor="middle" font-size="16.2" font-weight="bold" fill="#58595b" textLength="25.2" lengthAdjust="spacingAndGlyphs">723</text></g>
<text x="471.3" y="400.8" text-anchor="end" font-size="16.3" font-weight="bold" fill="#231f20" textLength="180.8" lengthAdjust="spacingAndGlyphs">Total GBI Registered Projects</text>
<text x="471.3" y="419.5" text-anchor="end" font-size="16.3" font-weight="bold" fill="#231f20" textLength="120.1" lengthAdjust="spacingAndGlyphs">by State / Territory:</text>
<text x="1060.5" y="398" text-anchor="end" font-size="16.3" font-weight="bold" fill="#231f20" textLength="147.7" lengthAdjust="spacingAndGlyphs">Total GBI Rated Projects</text>
<text x="1060.5" y="416.7" text-anchor="end" font-size="16.3" font-weight="bold" fill="#231f20" textLength="119" lengthAdjust="spacingAndGlyphs">by State / Territory:</text>
<g font-size="16.4" fill="#626366">
<text x="27" y="278.7" textLength="89.3" lengthAdjust="spacingAndGlyphs">GBI Project</text>
<text x="123.3" y="278.7" font-weight="bold" textLength="105" lengthAdjust="spacingAndGlyphs">Registered</text>
<text x="235.8" y="278.7" textLength="150.9" lengthAdjust="spacingAndGlyphs">- by State/Territory</text>
<text x="629.2" y="278.7" textLength="88.3" lengthAdjust="spacingAndGlyphs">GBI Project</text>
<text x="724.2" y="278.7" font-weight="bold" textLength="56.6" lengthAdjust="spacingAndGlyphs">Rated</text>
<text x="787.5" y="278.7" textLength="150.8" lengthAdjust="spacingAndGlyphs">- by State/Territory</text>
</g>
<g stroke="#6d6e70" stroke-width="1.3"><line x1="592.3" y1="263.2" x2="592.3" y2="267.9"/><line x1="592.3" y1="277" x2="592.3" y2="719" stroke-dasharray="3.8,2.4"/><line x1="592.3" y1="723.9" x2="592.3" y2="728"/></g>
<text x="105" y="772.5" font-size="15.8" font-weight="bold" fill="#5a5b5d" textLength="121.3" lengthAdjust="spacingAndGlyphs">Number of projects:</text>
<circle cx="268.5" cy="768.4" r="11" fill="#e6e7e8"/>
<text x="290" y="772.5" font-size="14.2" font-weight="bold" fill="#5a5b5d" textLength="8" lengthAdjust="spacingAndGlyphs">0</text>
<circle cx="340" cy="768.4" r="11" fill="#e6e7e8"/>
<text x="362.5" y="772.5" font-size="14.2" font-weight="bold" fill="#5a5b5d" textLength="32.5" lengthAdjust="spacingAndGlyphs">1 - 10</text>
<circle cx="435.3" cy="770.3" r="11" fill="#d1d3d4"/>
<text x="457.5" y="772.5" font-size="14.2" font-weight="bold" fill="#5a5b5d" textLength="40.5" lengthAdjust="spacingAndGlyphs">10 - 50</text>
<circle cx="538.8" cy="770.3" r="11" fill="#bcbec0"/>
<text x="560.5" y="772.5" font-size="14.2" font-weight="bold" fill="#5a5b5d" textLength="49.5" lengthAdjust="spacingAndGlyphs">50 - 100</text>
<circle cx="651.6" cy="771" r="11" fill="#a7a9ac"/>
<text x="674.3" y="772.5" font-size="14.2" font-weight="bold" fill="#5a5b5d" textLength="53.7" lengthAdjust="spacingAndGlyphs">100 - 150</text>
<circle cx="771.6" cy="770.6" r="11" fill="#999b9e"/>
<text x="794.5" y="772.5" font-size="14.2" font-weight="bold" fill="#5a5b5d" textLength="53.5" lengthAdjust="spacingAndGlyphs">150 - 200</text>
<circle cx="891.5" cy="770.6" r="11" fill="#808285"/>
<text x="913" y="772.5" font-size="14.2" font-weight="bold" fill="#5a5b5d" textLength="57.7" lengthAdjust="spacingAndGlyphs">200 - 250</text>
<circle cx="1014" cy="770.3" r="11" fill="#58595b"/>
<text x="1035" y="772.5" font-size="14.2" font-weight="bold" fill="#5a5b5d" textLength="58.7" lengthAdjust="spacingAndGlyphs">250 - 300</text>
</svg></body></html>
